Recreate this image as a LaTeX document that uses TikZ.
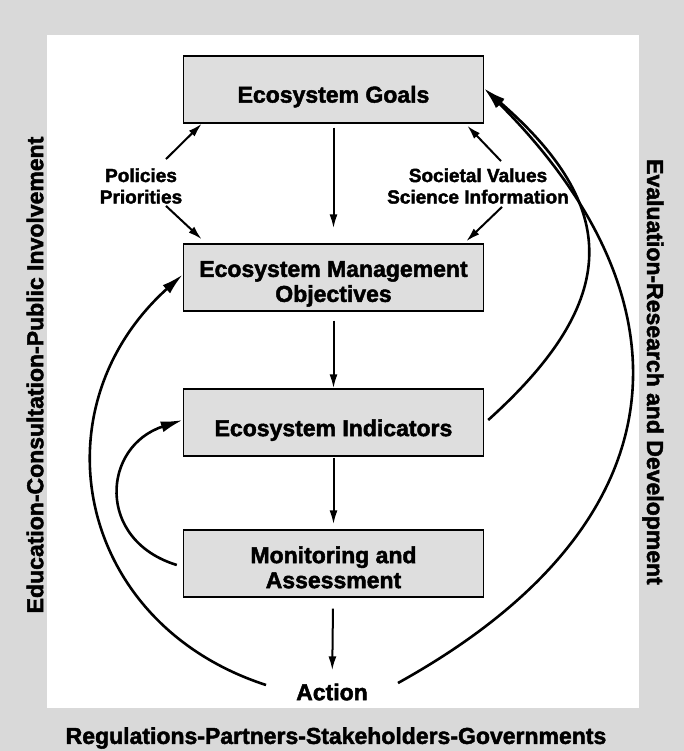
\documentclass[tikz,border=0pt]{standalone}
\usepackage{fontspec}
\setmainfont{Liberation Sans}[BoldFeatures={FakeBold=2}]
\usetikzlibrary{arrows.meta}

\newcommand{\vpad}[1]{\rule{0pt}{#1}}

\tikzset{
  box/.style={draw, line width=1.4pt, fill=black!13, minimum width=300pt, minimum height=67pt,
    align=center, font=\fontsize{23}{25}\selectfont\bfseries},
  lbl/.style={align=center, inner sep=0pt, font=\fontsize{19}{21.5}\selectfont\bfseries},
  side/.style={inner sep=0pt, font=\fontsize{23}{26}\selectfont\bfseries},
  arr/.style={-{Latex[length=14pt,width=8pt]}, line width=2pt},
  bigarr/.style={-{Latex[length=22pt,width=11pt]}, line width=2.6pt},
}

\begin{document}
\begin{tikzpicture}[x=1pt,y=1pt]
  \useasboundingbox (0,0) rectangle (684,-751);
  \fill[black!15] (0,0) rectangle (684,-751);
  \fill[white] (47,-35) rectangle (639,-708);

  \node[box] (goals) at (333.5,-89.5) {\vpad{31pt}Ecosystem Goals};
  \node[box] (emo) at (333.5,-277.5) {\vpad{28.5pt}Ecosystem Management\\Objectives};
  \node[box] (ind) at (333.5,-422.5) {\vpad{32pt}Ecosystem Indicators};
  \node[box] (mon) at (333.5,-563.5) {\vpad{24.5pt}Monitoring and\\Assessment};
  \node[side] (action) at (332,-692) {Action};

  \node[lbl] (pol) at (141,-186) {Policies\\Priorities};
  \node[lbl] (soc) at (478,-186) {Societal Values\\Science Information};

  % frame texts
  \node[side, rotate=90] (edu) at (35,-375) {Education-Consultation-Public Involvement};
  \node[side, rotate=-90] (eval) at (653,-372) {Evaluation-Research and Development};
  \node[side] (reg) at (336,-738) {Regulations-Partners-Stakeholders-Governments};

  % main chain
  \draw[arr, shorten <=4pt, shorten >=15pt] (goals) -- (emo);
  \draw[arr, shorten <=9pt] (emo) -- (ind);
  \draw[arr, shorten <=1pt, shorten >=5pt] (ind) -- (mon);
  \draw[arr, shorten <=11pt, shorten >=13pt] (mon) -- (action);

  \draw[arr] ([xshift=25pt,yshift=9pt]pol.north) -- ([xshift=19pt]goals.south west);
  \draw[arr] ([xshift=25pt,yshift=-2pt]pol.south) -- ([xshift=19pt,yshift=4pt]emo.north west);
  \draw[arr] ([xshift=23pt,yshift=7pt]soc.north) -- ([xshift=-17pt,yshift=-2pt]goals.south east);
  \draw[arr] ([xshift=24pt,yshift=-3pt]soc.south) -- ([xshift=-18pt,yshift=2pt]emo.north east);

  % feedback loops
  \draw[bigarr] ([xshift=-30pt,yshift=7pt]action.west) .. controls +(162:200) and +(222:200) .. ([yshift=3pt]emo.west);
  \draw[bigarr] ([xshift=-6pt,yshift=-1.5pt]mon.west) .. controls +(163:85) and +(198:85) .. ([yshift=2.5pt]ind.west);
  \draw[bigarr] ([xshift=4pt,yshift=2.5pt]ind.east) .. controls +(42:180) and +(319:180) .. ([yshift=1pt]goals.east);
  \draw[bigarr] ([xshift=30pt,yshift=9pt]action.east) .. controls +(29:340) and +(315:290) .. ([yshift=1pt]goals.east);
\end{tikzpicture}
\end{document}
